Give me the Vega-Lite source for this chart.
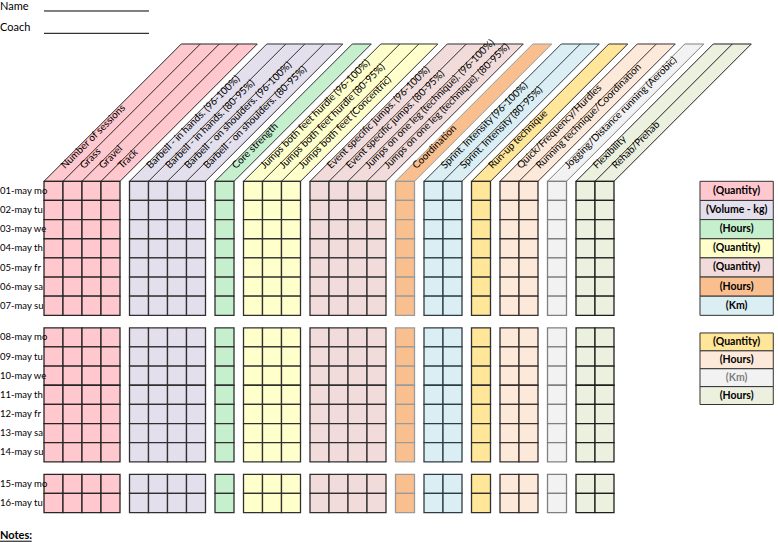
{
"$schema": "https://vega.github.io/schema/vega-lite/v6.json",
"width": 778, "height": 542, "autosize": "none", "padding": 0,
"background": "white",
"config": {"view": {"stroke": null}, "text": {"font": "Lato"}},
"datasets": {
"days": [
{"d":1,"t":"01-may mo","r":0},{"d":2,"t":"02-may tu","r":1},{"d":3,"t":"03-may we","r":2},{"d":4,"t":"04-may th","r":3},{"d":5,"t":"05-may fr","r":4},{"d":6,"t":"06-may sa","r":5},{"d":7,"t":"07-may su","r":6},
{"d":8,"t":"08-may mo","r":7.65},{"d":9,"t":"09-may tu","r":8.65},{"d":10,"t":"10-may we","r":9.65},{"d":11,"t":"11-may th","r":10.65},{"d":12,"t":"12-may fr","r":11.65},{"d":13,"t":"13-may sa","r":12.65},{"d":14,"t":"14-may su","r":13.65},
{"d":15,"t":"15-may mo","r":15.3},{"d":16,"t":"16-may tu","r":16.3}],
"cols": [
{"k":0,"t":"Number of sessions","g":"pk","c":0,"f":1},
{"k":1,"t":"Grass","g":"pk","c":1,"f":0},
{"k":2,"t":"Gravel","g":"pk","c":2,"f":0},
{"k":3,"t":"Track","g":"pk","c":3,"f":0},
{"k":4,"t":"Barbell - in hands. (96-100%)","g":"lv","c":4.5,"f":1},
{"k":5,"t":"Barbell - in hands. (80-95%)","g":"lv","c":5.5,"f":0},
{"k":6,"t":"Barbell - on shoulders. (96-100%)","g":"lv","c":6.5,"f":0},
{"k":7,"t":"Barbell - on shoulders. (80-95%)","g":"lv","c":7.5,"f":0},
{"k":8,"t":"Core strength","g":"gn","c":9,"f":1},
{"k":9,"t":"Jumps both feet hurdle (96-100%)","g":"yl","c":10.5,"f":1},
{"k":10,"t":"Jumps both feet hurdle (80-95%)","g":"yl","c":11.5,"f":0},
{"k":11,"t":"Jumps both feet (Concentric)","g":"yl","c":12.5,"f":0},
{"k":12,"t":"Event specific jumps. (96-100%)","g":"rs","c":14,"f":1},
{"k":13,"t":"Event specific jumps. (80-95%)","g":"rs","c":15,"f":0},
{"k":14,"t":"Jumps on one leg (technique). (96-100%)","g":"rs","c":16,"f":0},
{"k":15,"t":"Jumps on one leg (technique). (80-95%)","g":"rs","c":17,"f":0},
{"k":16,"t":"Coordination","g":"or","c":18.5,"f":1},
{"k":17,"t":"Sprint. Intensity (96-100%)","g":"bl","c":20,"f":1},
{"k":18,"t":"Sprint. Intensity (80-95%)","g":"bl","c":21,"f":0},
{"k":19,"t":"Run-up technique","g":"gd","c":22.5,"f":1},
{"k":20,"t":"Quick/Frequency/Hurdles","g":"pc","c":24,"f":1},
{"k":21,"t":"Running technique/Coordination","g":"pc","c":25,"f":0},
{"k":22,"t":"Jogging/Distance running (Aerobic)","g":"gy","c":26.5,"f":1},
{"k":23,"t":"Flexibility","g":"lg","c":28,"f":1},
{"k":24,"t":"Rehab/Prehab","g":"lg","c":29,"f":0}],
"hdr": [
{"g":"pk","v":0,"a":0,"b":4},{"g":"pk","v":-7.17,"a":7.226,"b":11.226},
{"g":"lv","v":0,"a":4.5,"b":8.5},{"g":"lv","v":-7.17,"a":11.726,"b":15.726},
{"g":"gn","v":0,"a":9,"b":10},{"g":"gn","v":-7.17,"a":16.226,"b":17.226},
{"g":"yl","v":0,"a":10.5,"b":13.5},{"g":"yl","v":-7.17,"a":17.726,"b":20.726},
{"g":"rs","v":0,"a":14,"b":18},{"g":"rs","v":-7.17,"a":21.226,"b":25.226},
{"g":"or","v":0,"a":18.5,"b":19.5},{"g":"or","v":-7.17,"a":25.726,"b":26.726},
{"g":"bl","v":0,"a":20,"b":22},{"g":"bl","v":-7.17,"a":27.226,"b":29.226},
{"g":"gd","v":0,"a":22.5,"b":23.5},{"g":"gd","v":-7.17,"a":29.726,"b":30.726},
{"g":"pc","v":0,"a":24,"b":26},{"g":"pc","v":-7.17,"a":31.226,"b":33.226},
{"g":"gy","v":0,"a":26.5,"b":27.5},{"g":"gy","v":-7.17,"a":33.726,"b":34.726},
{"g":"lg","v":0,"a":28,"b":30},{"g":"lg","v":-7.17,"a":35.226,"b":37.226}],
"leg": [
{"g":"pk","t":"(Quantity)","y":0,"y2":1,"m":0.5},
{"g":"lv","t":"(Volume - kg)","y":1,"y2":2,"m":1.5},
{"g":"gn","t":"(Hours)","y":2,"y2":3,"m":2.5},
{"g":"yl","t":"(Quantity)","y":3,"y2":4,"m":3.5},
{"g":"rs","t":"(Quantity)","y":4,"y2":5,"m":4.5},
{"g":"or","t":"(Hours)","y":5,"y2":6,"m":5.5},
{"g":"bl","t":"(Km)","y":6,"y2":7,"m":6.5},
{"g":"gd","t":"(Quantity)","y":7.92,"y2":8.854,"m":8.387},
{"g":"pc","t":"(Hours)","y":8.854,"y2":9.788,"m":9.321},
{"g":"gy","t":"(Km)","y":9.788,"y2":10.722,"m":10.255},
{"g":"lg","t":"(Hours)","y":10.722,"y2":11.656,"m":11.189}],
"txt": [{"t":"Name","x":-2.3158,"y":-8.945},{"t":"Coach","x":-2.3158,"y":-7.849}],
"notes": [{"t":"Notes:","x":-2.3158,"y":18.695}],
"lines": [{"x":0,"x2":5.526,"y":-8.893},{"x":0,"x2":5.526,"y":-7.728},{"x":-2.3158,"x2":-0.647,"y":18.794}],
"cells": [
{"d":1,"k":0},{"d":1,"k":1},{"d":1,"k":2},{"d":1,"k":3},{"d":1,"k":4},{"d":1,"k":5},{"d":1,"k":6},{"d":1,"k":7},{"d":1,"k":8},{"d":1,"k":9},{"d":1,"k":10},{"d":1,"k":11},{"d":1,"k":12},{"d":1,"k":13},{"d":1,"k":14},{"d":1,"k":15},{"d":1,"k":16},{"d":1,"k":17},{"d":1,"k":18},{"d":1,"k":19},{"d":1,"k":20},{"d":1,"k":21},{"d":1,"k":22},{"d":1,"k":23},{"d":1,"k":24},
{"d":2,"k":0},{"d":2,"k":1},{"d":2,"k":2},{"d":2,"k":3},{"d":2,"k":4},{"d":2,"k":5},{"d":2,"k":6},{"d":2,"k":7},{"d":2,"k":8},{"d":2,"k":9},{"d":2,"k":10},{"d":2,"k":11},{"d":2,"k":12},{"d":2,"k":13},{"d":2,"k":14},{"d":2,"k":15},{"d":2,"k":16},{"d":2,"k":17},{"d":2,"k":18},{"d":2,"k":19},{"d":2,"k":20},{"d":2,"k":21},{"d":2,"k":22},{"d":2,"k":23},{"d":2,"k":24},
{"d":3,"k":0},{"d":3,"k":1},{"d":3,"k":2},{"d":3,"k":3},{"d":3,"k":4},{"d":3,"k":5},{"d":3,"k":6},{"d":3,"k":7},{"d":3,"k":8},{"d":3,"k":9},{"d":3,"k":10},{"d":3,"k":11},{"d":3,"k":12},{"d":3,"k":13},{"d":3,"k":14},{"d":3,"k":15},{"d":3,"k":16},{"d":3,"k":17},{"d":3,"k":18},{"d":3,"k":19},{"d":3,"k":20},{"d":3,"k":21},{"d":3,"k":22},{"d":3,"k":23},{"d":3,"k":24},
{"d":4,"k":0},{"d":4,"k":1},{"d":4,"k":2},{"d":4,"k":3},{"d":4,"k":4},{"d":4,"k":5},{"d":4,"k":6},{"d":4,"k":7},{"d":4,"k":8},{"d":4,"k":9},{"d":4,"k":10},{"d":4,"k":11},{"d":4,"k":12},{"d":4,"k":13},{"d":4,"k":14},{"d":4,"k":15},{"d":4,"k":16},{"d":4,"k":17},{"d":4,"k":18},{"d":4,"k":19},{"d":4,"k":20},{"d":4,"k":21},{"d":4,"k":22},{"d":4,"k":23},{"d":4,"k":24},
{"d":5,"k":0},{"d":5,"k":1},{"d":5,"k":2},{"d":5,"k":3},{"d":5,"k":4},{"d":5,"k":5},{"d":5,"k":6},{"d":5,"k":7},{"d":5,"k":8},{"d":5,"k":9},{"d":5,"k":10},{"d":5,"k":11},{"d":5,"k":12},{"d":5,"k":13},{"d":5,"k":14},{"d":5,"k":15},{"d":5,"k":16},{"d":5,"k":17},{"d":5,"k":18},{"d":5,"k":19},{"d":5,"k":20},{"d":5,"k":21},{"d":5,"k":22},{"d":5,"k":23},{"d":5,"k":24},
{"d":6,"k":0},{"d":6,"k":1},{"d":6,"k":2},{"d":6,"k":3},{"d":6,"k":4},{"d":6,"k":5},{"d":6,"k":6},{"d":6,"k":7},{"d":6,"k":8},{"d":6,"k":9},{"d":6,"k":10},{"d":6,"k":11},{"d":6,"k":12},{"d":6,"k":13},{"d":6,"k":14},{"d":6,"k":15},{"d":6,"k":16},{"d":6,"k":17},{"d":6,"k":18},{"d":6,"k":19},{"d":6,"k":20},{"d":6,"k":21},{"d":6,"k":22},{"d":6,"k":23},{"d":6,"k":24},
{"d":7,"k":0},{"d":7,"k":1},{"d":7,"k":2},{"d":7,"k":3},{"d":7,"k":4},{"d":7,"k":5},{"d":7,"k":6},{"d":7,"k":7},{"d":7,"k":8},{"d":7,"k":9},{"d":7,"k":10},{"d":7,"k":11},{"d":7,"k":12},{"d":7,"k":13},{"d":7,"k":14},{"d":7,"k":15},{"d":7,"k":16},{"d":7,"k":17},{"d":7,"k":18},{"d":7,"k":19},{"d":7,"k":20},{"d":7,"k":21},{"d":7,"k":22},{"d":7,"k":23},{"d":7,"k":24},
{"d":8,"k":0},{"d":8,"k":1},{"d":8,"k":2},{"d":8,"k":3},{"d":8,"k":4},{"d":8,"k":5},{"d":8,"k":6},{"d":8,"k":7},{"d":8,"k":8},{"d":8,"k":9},{"d":8,"k":10},{"d":8,"k":11},{"d":8,"k":12},{"d":8,"k":13},{"d":8,"k":14},{"d":8,"k":15},{"d":8,"k":16},{"d":8,"k":17},{"d":8,"k":18},{"d":8,"k":19},{"d":8,"k":20},{"d":8,"k":21},{"d":8,"k":22},{"d":8,"k":23},{"d":8,"k":24},
{"d":9,"k":0},{"d":9,"k":1},{"d":9,"k":2},{"d":9,"k":3},{"d":9,"k":4},{"d":9,"k":5},{"d":9,"k":6},{"d":9,"k":7},{"d":9,"k":8},{"d":9,"k":9},{"d":9,"k":10},{"d":9,"k":11},{"d":9,"k":12},{"d":9,"k":13},{"d":9,"k":14},{"d":9,"k":15},{"d":9,"k":16},{"d":9,"k":17},{"d":9,"k":18},{"d":9,"k":19},{"d":9,"k":20},{"d":9,"k":21},{"d":9,"k":22},{"d":9,"k":23},{"d":9,"k":24},
{"d":10,"k":0},{"d":10,"k":1},{"d":10,"k":2},{"d":10,"k":3},{"d":10,"k":4},{"d":10,"k":5},{"d":10,"k":6},{"d":10,"k":7},{"d":10,"k":8},{"d":10,"k":9},{"d":10,"k":10},{"d":10,"k":11},{"d":10,"k":12},{"d":10,"k":13},{"d":10,"k":14},{"d":10,"k":15},{"d":10,"k":16},{"d":10,"k":17},{"d":10,"k":18},{"d":10,"k":19},{"d":10,"k":20},{"d":10,"k":21},{"d":10,"k":22},{"d":10,"k":23},{"d":10,"k":24},
{"d":11,"k":0},{"d":11,"k":1},{"d":11,"k":2},{"d":11,"k":3},{"d":11,"k":4},{"d":11,"k":5},{"d":11,"k":6},{"d":11,"k":7},{"d":11,"k":8},{"d":11,"k":9},{"d":11,"k":10},{"d":11,"k":11},{"d":11,"k":12},{"d":11,"k":13},{"d":11,"k":14},{"d":11,"k":15},{"d":11,"k":16},{"d":11,"k":17},{"d":11,"k":18},{"d":11,"k":19},{"d":11,"k":20},{"d":11,"k":21},{"d":11,"k":22},{"d":11,"k":23},{"d":11,"k":24},
{"d":12,"k":0},{"d":12,"k":1},{"d":12,"k":2},{"d":12,"k":3},{"d":12,"k":4},{"d":12,"k":5},{"d":12,"k":6},{"d":12,"k":7},{"d":12,"k":8},{"d":12,"k":9},{"d":12,"k":10},{"d":12,"k":11},{"d":12,"k":12},{"d":12,"k":13},{"d":12,"k":14},{"d":12,"k":15},{"d":12,"k":16},{"d":12,"k":17},{"d":12,"k":18},{"d":12,"k":19},{"d":12,"k":20},{"d":12,"k":21},{"d":12,"k":22},{"d":12,"k":23},{"d":12,"k":24},
{"d":13,"k":0},{"d":13,"k":1},{"d":13,"k":2},{"d":13,"k":3},{"d":13,"k":4},{"d":13,"k":5},{"d":13,"k":6},{"d":13,"k":7},{"d":13,"k":8},{"d":13,"k":9},{"d":13,"k":10},{"d":13,"k":11},{"d":13,"k":12},{"d":13,"k":13},{"d":13,"k":14},{"d":13,"k":15},{"d":13,"k":16},{"d":13,"k":17},{"d":13,"k":18},{"d":13,"k":19},{"d":13,"k":20},{"d":13,"k":21},{"d":13,"k":22},{"d":13,"k":23},{"d":13,"k":24},
{"d":14,"k":0},{"d":14,"k":1},{"d":14,"k":2},{"d":14,"k":3},{"d":14,"k":4},{"d":14,"k":5},{"d":14,"k":6},{"d":14,"k":7},{"d":14,"k":8},{"d":14,"k":9},{"d":14,"k":10},{"d":14,"k":11},{"d":14,"k":12},{"d":14,"k":13},{"d":14,"k":14},{"d":14,"k":15},{"d":14,"k":16},{"d":14,"k":17},{"d":14,"k":18},{"d":14,"k":19},{"d":14,"k":20},{"d":14,"k":21},{"d":14,"k":22},{"d":14,"k":23},{"d":14,"k":24},
{"d":15,"k":0},{"d":15,"k":1},{"d":15,"k":2},{"d":15,"k":3},{"d":15,"k":4},{"d":15,"k":5},{"d":15,"k":6},{"d":15,"k":7},{"d":15,"k":8},{"d":15,"k":9},{"d":15,"k":10},{"d":15,"k":11},{"d":15,"k":12},{"d":15,"k":13},{"d":15,"k":14},{"d":15,"k":15},{"d":15,"k":16},{"d":15,"k":17},{"d":15,"k":18},{"d":15,"k":19},{"d":15,"k":20},{"d":15,"k":21},{"d":15,"k":22},{"d":15,"k":23},{"d":15,"k":24},
{"d":16,"k":0},{"d":16,"k":1},{"d":16,"k":2},{"d":16,"k":3},{"d":16,"k":4},{"d":16,"k":5},{"d":16,"k":6},{"d":16,"k":7},{"d":16,"k":8},{"d":16,"k":9},{"d":16,"k":10},{"d":16,"k":11},{"d":16,"k":12},{"d":16,"k":13},{"d":16,"k":14},{"d":16,"k":15},{"d":16,"k":16},{"d":16,"k":17},{"d":16,"k":18},{"d":16,"k":19},{"d":16,"k":20},{"d":16,"k":21},{"d":16,"k":22},{"d":16,"k":23},{"d":16,"k":24}]
},
"layer": [
{"data":{"name":"hdr"},
 "mark":{"type":"area","orient":"horizontal","strokeWidth":1,"opacity":1,"fillOpacity":1},
 "encoding":{
  "y":{"field":"v","type":"quantitative","scale":{"domain":[-9.4674,18.8355],"reverse":true,"nice":false,"zero":false},"axis":null},
  "x":{"field":"a","type":"quantitative","scale":{"domain":[-2.3158,38.6316],"nice":false,"zero":false},"axis":null},
  "x2":{"field":"b"},
  "detail":{"field":"g"},
  "fill":{"field":"g","type":"nominal","scale":{"domain":["pk","lv","gn","yl","rs","or","bl","gd","pc","gy","lg"],"range":["#FFC7CE","#E4DFEC","#C6EFCE","#FFFFCC","#F2DCDB","#FABF8F","#DAEEF3","#FFE699","#FDE9D9","#F2F2F2","#EBF1DE"]},"legend":null},
  "stroke":{"field":"g","type":"nominal","scale":{"domain":["pk","lv","gn","yl","rs","or","bl","gd","pc","gy","lg"],"range":["#262626","#303030","#303030","#303030","#303030","#9a9a9a","#2f3c44","#303030","#3a3030","#808080","#1f1f1f"]},"legend":null}
 }},
{"data":{"name":"cols"},
 "transform":[{"filter":"datum.f != 1"}],
 "mark":{"type":"rule","strokeWidth":1,"x2Offset":137.3},
 "encoding":{
  "x":{"field":"c","type":"quantitative","scale":{"domain":[-2.3158,38.6316],"nice":false,"zero":false},"axis":null},
  "x2":{"field":"c"},
  "y":{"datum":0,"type":"quantitative","scale":{"domain":[-9.4674,18.8355],"reverse":true,"nice":false,"zero":false},"axis":null},
  "y2":{"datum":-7.17},
  "stroke":{"field":"g","type":"nominal","legend":null}
 }},
{"data":{"name":"cols"},
 "mark":{"type":"text","angle":315,"align":"left","baseline":"alphabetic","xOffset":21,"yOffset":-12,"fontSize":10,"font":"Lato","color":"#000000"},
 "encoding":{
  "x":{"field":"c","type":"quantitative","scale":{"domain":[-2.3158,38.6316],"nice":false,"zero":false},"axis":null},
  "y":{"datum":0,"type":"quantitative","scale":{"domain":[-9.4674,18.8355],"reverse":true,"nice":false,"zero":false},"axis":null},
  "text":{"field":"t"}
 }},
{"data":{"name":"cells"},
 "transform":[
  {"lookup":"d","from":{"data":{"name":"days"},"key":"d","fields":["r"]}},
  {"lookup":"k","from":{"data":{"name":"cols"},"key":"k","fields":["c","g"]}}],
 "mark":{"type":"rect","x2Offset":19,"y2Offset":19.15,"strokeWidth":1.3,"opacity":1},
 "encoding":{
  "x":{"field":"c","type":"quantitative","scale":{"domain":[-2.3158,38.6316],"nice":false,"zero":false},"axis":null},
  "x2":{"field":"c"},
  "y":{"field":"r","type":"quantitative","scale":{"domain":[-9.4674,18.8355],"reverse":true,"nice":false,"zero":false},"axis":null},
  "y2":{"field":"r"},
  "fill":{"field":"g","type":"nominal","legend":null},
  "stroke":{"field":"g","type":"nominal","legend":null}
 }},
{"data":{"name":"days"},
 "mark":{"type":"text","align":"left","baseline":"middle","yOffset":9.6,"fontSize":9.5,"font":"Lato","color":"#000000"},
 "encoding":{
  "x":{"datum":-2.3158,"type":"quantitative","scale":{"domain":[-2.3158,38.6316],"nice":false,"zero":false},"axis":null},
  "y":{"field":"r","type":"quantitative","scale":{"domain":[-9.4674,18.8355],"reverse":true,"nice":false,"zero":false},"axis":null},
  "text":{"field":"t"}
 }},
{"data":{"name":"leg"},
 "mark":{"type":"rect","stroke":"#333333","strokeWidth":1,"opacity":1},
 "encoding":{
  "x":{"datum":34.526,"type":"quantitative","scale":{"domain":[-2.3158,38.6316],"nice":false,"zero":false},"axis":null},
  "x2":{"datum":38.384},
  "y":{"field":"y","type":"quantitative","scale":{"domain":[-9.4674,18.8355],"reverse":true,"nice":false,"zero":false},"axis":null},
  "y2":{"field":"y2"},
  "fill":{"field":"g","type":"nominal","legend":null}
 }},
{"data":{"name":"leg"},
 "mark":{"type":"text","align":"center","baseline":"middle","fontSize":10.5,"fontWeight":"bold","font":"Lato"},
 "encoding":{
  "x":{"datum":36.455,"type":"quantitative","scale":{"domain":[-2.3158,38.6316],"nice":false,"zero":false},"axis":null},
  "y":{"field":"m","type":"quantitative","scale":{"domain":[-9.4674,18.8355],"reverse":true,"nice":false,"zero":false},"axis":null},
  "text":{"field":"t"},
  "color":{"condition":{"test":"datum.g == 'gy'","value":"#7f7f7f"},"value":"#000000"}
 }},
{"data":{"name":"txt"},
 "mark":{"type":"text","align":"left","baseline":"alphabetic","fontSize":11,"font":"Lato","color":"#000000"},
 "encoding":{
  "x":{"field":"x","type":"quantitative","scale":{"domain":[-2.3158,38.6316],"nice":false,"zero":false},"axis":null},
  "y":{"field":"y","type":"quantitative","scale":{"domain":[-9.4674,18.8355],"reverse":true,"nice":false,"zero":false},"axis":null},
  "text":{"field":"t"}
 }},
{"data":{"name":"notes"},
 "mark":{"type":"text","align":"left","baseline":"alphabetic","fontSize":11,"fontWeight":"bold","font":"Lato","color":"#000000"},
 "encoding":{
  "x":{"field":"x","type":"quantitative","scale":{"domain":[-2.3158,38.6316],"nice":false,"zero":false},"axis":null},
  "y":{"field":"y","type":"quantitative","scale":{"domain":[-9.4674,18.8355],"reverse":true,"nice":false,"zero":false},"axis":null},
  "text":{"field":"t"}
 }},
{"data":{"name":"lines"},
 "mark":{"type":"rule","strokeWidth":1,"color":"#000000"},
 "encoding":{
  "x":{"field":"x","type":"quantitative","scale":{"domain":[-2.3158,38.6316],"nice":false,"zero":false},"axis":null},
  "x2":{"field":"x2"},
  "y":{"field":"y","type":"quantitative","scale":{"domain":[-9.4674,18.8355],"reverse":true,"nice":false,"zero":false},"axis":null}
 }}
]
}
